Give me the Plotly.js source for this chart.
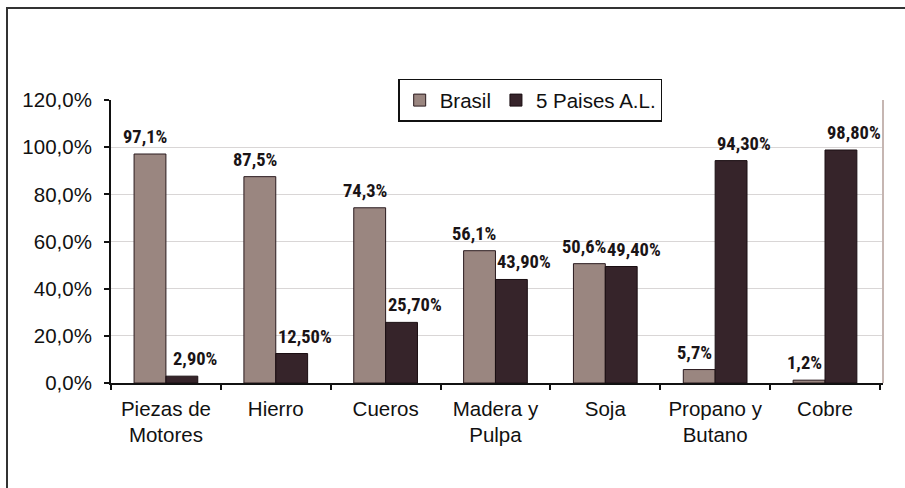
<!DOCTYPE html>
<html>
<head>
<meta charset="utf-8">
<script src="https://cdn.plot.ly/plotly-3.0.1.min.js"></script>
<style>
  html, body { margin: 0; padding: 0; background: #fff; }
  #chart { width: 905px; height: 488px; position: relative; }
  #frame { position: absolute; left: 6px; top: 7px; width: 905px; height: 488px;
           border-left: 2px solid #333; border-top: 2px solid #333; pointer-events: none; box-sizing: border-box; }
  .annotation-text { font-stretch: 75% !important; }
</style>
</head>
<body>
<div id="chart"></div>
<div id="frame"></div>
<script>
const categories = ["Piezas de<br>Motores", "Hierro", "Cueros", "Madera y<br>Pulpa", "Soja", "Propano y<br>Butano", "Cobre"];
const brasil = [0.971, 0.875, 0.743, 0.561, 0.506, 0.057, 0.012];
const paises = [0.029, 0.125, 0.257, 0.439, 0.494, 0.943, 0.988];
const seriesNames = ["Brasil", "5 Paises A.L."];

function pct(v, d) { return (v * 100).toFixed(d).replace('.', ',') + '%'; }

const labelFont = { family: "Roboto, 'Open Sans', sans-serif", size: 18.5, color: '#1a1416', weight: 'bold' };

const traces = [
  {
    type: 'bar', name: seriesNames[0], x: categories, y: brasil,
    hoverinfo: 'skip',
    marker: { color: '#9a8680', line: { color: '#2a1a1e', width: 1 } }
  },
  {
    type: 'bar', name: seriesNames[1], x: categories, y: paises,
    hoverinfo: 'skip',
    marker: { color: '#36242a', line: { color: '#1a0e12', width: 1 } }
  }
];

// value labels, anchored at each bar's value through the axes
const annotations = [];
categories.forEach((c, i) => {
  annotations.push({ x: c, y: brasil[i], xref: 'x', yref: 'y', text: pct(brasil[i], 1),
    showarrow: false, xanchor: 'center', yanchor: 'bottom', xshift: -21, yshift: 4, font: labelFont });
  annotations.push({ x: c, y: paises[i], xref: 'x', yref: 'y', text: pct(paises[i], 2),
    showarrow: false, xanchor: 'center', yanchor: 'bottom', xshift: 29, yshift: 4, font: labelFont });
});

const layout = {
  width: 905, height: 488,
  margin: { l: 111, r: 22, t: 100, b: 105 },
  paper_bgcolor: '#fff', plot_bgcolor: '#fff',
  separators: ',.',
  font: { family: "'Liberation Sans', Arial, sans-serif", size: 20.5, color: '#111' },
  barmode: 'group', bargap: 0.42, bargroupgap: 0,
  showlegend: true,
  legend: {
    orientation: 'h', x: 0.372, y: 1.075, xanchor: 'left', yanchor: 'top',
    bgcolor: '#fff', bordercolor: '#111', borderwidth: 1.5,
    font: { size: 20.5, color: '#111' }, itemwidth: 30, traceorder: 'normal'
  },
  xaxis: {
    type: 'category', showline: true, linecolor: '#111', linewidth: 2,
    ticks: 'outside', tickson: 'boundaries', ticklen: 5, tickwidth: 2, tickcolor: '#111',
    showgrid: false, ticklabelstandoff: 6, fixedrange: true
  },
  yaxis: {
    range: [0, 1.2], dtick: 0.2, tick0: 0, tickformat: '.1%',
    showline: true, linecolor: '#111', linewidth: 2,
    ticks: 'outside', ticklen: 5, tickwidth: 2, tickcolor: '#111',
    showgrid: true, gridcolor: '#d9d6d6', gridwidth: 1,
    zeroline: false, ticklabelstandoff: 8, fixedrange: true
  },
  annotations: annotations,
  shapes: [
    { type: 'line', xref: 'paper', yref: 'paper', x0: 1, x1: 1, y0: 0, y1: 1,
      line: { color: '#c6b6b2', width: 2 } }
  ]
};

Plotly.newPlot('chart', traces, layout, { displayModeBar: false, staticPlot: true });
</script>
</body>
</html>
